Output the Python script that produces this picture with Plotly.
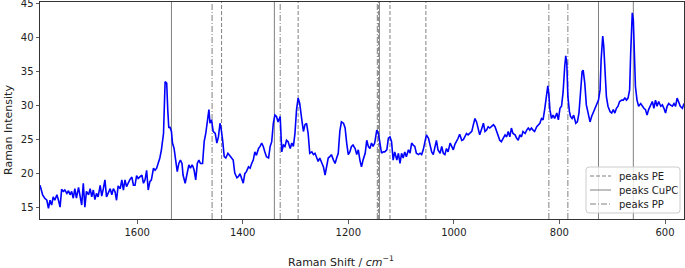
import plotly.graph_objects as go

# Raman shift (cm^-1) and intensity
shift = [1784, 1779, 1775, 1771, 1768, 1765, 1762, 1759, 1756, 1752, 1749, 1746, 1743, 1740, 1737, 1733,
         1730, 1727, 1724, 1721, 1718, 1715, 1711, 1708, 1705, 1702, 1699, 1696, 1692, 1689, 1686, 1683,
         1680, 1677, 1674, 1670, 1667, 1664, 1661, 1658, 1655, 1651, 1648, 1645, 1642, 1639, 1636, 1632,
         1629, 1626, 1623, 1620, 1617, 1614, 1610, 1607, 1604, 1601, 1598, 1595, 1591, 1588, 1585, 1582,
         1579, 1576, 1573, 1569, 1566, 1563, 1560, 1557, 1554, 1550, 1547, 1544, 1542, 1540, 1538, 1535,
         1533, 1530, 1527, 1524, 1521, 1518, 1515, 1513, 1509, 1506, 1502, 1499, 1496, 1494, 1492, 1489,
         1486, 1483, 1480, 1476, 1473, 1470, 1467, 1464, 1462, 1459, 1456, 1452, 1449, 1446, 1443, 1441,
         1438, 1435, 1432, 1428, 1424, 1421, 1418, 1415, 1411, 1408, 1405, 1402, 1399, 1396, 1393, 1389,
         1386, 1383, 1380, 1377, 1374, 1370, 1367, 1364, 1361, 1358, 1355, 1351, 1348, 1345, 1342, 1339,
         1336, 1333, 1329, 1326, 1323, 1320, 1317, 1314, 1310, 1307, 1304, 1301, 1298, 1295, 1292, 1288,
         1285, 1282, 1279, 1276, 1273, 1269, 1266, 1263, 1260, 1257, 1254, 1250, 1247, 1244, 1241, 1238,
         1235, 1232, 1228, 1225, 1222, 1219, 1216, 1213, 1209, 1206, 1203, 1200, 1197, 1194, 1191, 1187,
         1184, 1181, 1178, 1175, 1172, 1168, 1165, 1162, 1159, 1156, 1153, 1150, 1146, 1143, 1140, 1137,
         1134, 1131, 1127, 1124, 1121, 1118, 1115, 1112, 1108, 1105, 1102, 1099, 1096, 1093, 1090, 1086,
         1083, 1080, 1077, 1074, 1071, 1067, 1064, 1061, 1058, 1055, 1052, 1048, 1045, 1042, 1039, 1036,
         1033, 1030, 1026, 1023, 1020, 1017, 1014, 1011, 1007, 1004, 1001, 998, 995, 992, 989, 985,
         982, 979, 976, 973, 970, 966, 963, 960, 957, 954, 951, 948, 944, 941, 938, 935,
         932, 929, 925, 922, 919, 916, 913, 910, 906, 903, 900, 897, 894, 891, 888, 884,
         881, 878, 875, 872, 869, 865, 862, 859, 856, 853, 850, 847, 843, 840, 837, 834,
         831, 828, 824, 822, 820, 818, 815, 812, 809, 805, 802, 799, 796, 793, 790, 788,
         786, 784, 781, 779, 776, 773, 769, 766, 763, 760, 757, 755, 752, 749, 745, 742,
         739, 736, 733, 730, 726, 723, 721, 718, 716, 713, 711, 708, 704, 701, 698, 695,
         692, 689, 686, 682, 679, 676, 673, 670, 667, 665, 662, 660, 658, 656, 653, 650,
         646, 643, 640, 637, 634, 631, 627, 624, 621, 618, 615, 612, 608, 605, 602, 599,
         596, 593, 590, 586, 583, 580, 577, 574, 571, 567, 564]

intensity = [18.3, 16.9, 16.4, 16.1, 14.9, 16.1, 15.4, 16.6, 16.1, 16.9, 16.1, 15.1, 17.7, 17.4, 17.6, 17.1,
             17.5, 16.9, 17.4, 16.4, 17.8, 16.4, 18.0, 16.6, 15.4, 18.6, 15.1, 17.4, 16.9, 17.8, 16.6, 17.6,
             16.2, 17.1, 16.6, 18.3, 16.7, 17.8, 19.1, 16.6, 17.1, 17.8, 16.9, 17.8, 17.4, 16.1, 18.2, 17.8,
             19.1, 17.6, 19.1, 18.1, 18.6, 19.1, 19.5, 18.3, 18.3, 19.7, 19.3, 19.5, 19.8, 18.6, 19.1, 20.5,
             17.6, 18.8, 19.1, 20.8, 20.5, 20.8, 21.5, 22.3, 23.5, 25.9, 33.5, 33.3, 29.4, 26.7, 26.9, 26.2,
             24.5, 23.7, 22.0, 20.3, 21.5, 22.0, 21.5, 19.8, 18.6, 19.8, 21.3, 20.8, 21.3, 21.0, 20.5, 19.1,
             21.5, 22.0, 21.5, 21.5, 24.7, 25.9, 27.4, 29.4, 27.4, 27.9, 26.2, 25.9, 24.5, 25.4, 27.4, 26.7,
             24.9, 22.5, 22.3, 23.0, 22.6, 22.3, 22.0, 20.1, 19.4, 19.6, 20.0, 19.3, 18.6, 20.0, 20.3, 21.0,
             20.8, 21.5, 22.0, 23.2, 22.7, 23.7, 24.0, 24.5, 24.0, 23.2, 22.5, 22.3, 24.0, 24.7, 27.4, 28.6,
             28.4, 27.6, 28.4, 23.2, 24.2, 24.0, 24.9, 24.7, 23.7, 24.5, 24.0, 25.9, 29.4, 31.1, 30.3, 27.9,
             26.2, 27.2, 27.4, 25.9, 23.0, 23.2, 22.8, 23.0, 22.5, 21.8, 22.3, 21.5, 21.0, 19.8, 21.0, 22.3,
             22.5, 22.8, 22.0, 21.5, 22.3, 23.0, 26.2, 27.6, 27.4, 26.7, 24.5, 22.8, 23.2, 24.0, 24.2, 23.7,
             22.8, 23.5, 22.0, 21.0, 22.0, 23.0, 24.9, 24.0, 23.7, 24.5, 24.0, 24.5, 26.4, 25.9, 24.5, 23.0,
             23.2, 23.2, 23.5, 25.2, 25.4, 24.7, 22.0, 23.2, 22.0, 23.0, 21.5, 23.0, 22.3, 23.2, 22.5, 23.5,
             23.0, 24.5, 24.2, 24.0, 23.0, 22.8, 23.0, 22.8, 23.5, 24.7, 25.7, 25.2, 24.2, 23.2, 22.8, 23.7,
             24.9, 23.5, 23.0, 24.0, 23.0, 22.8, 23.7, 23.2, 24.5, 24.0, 23.5, 24.3, 24.7, 25.2, 25.8, 24.9,
             25.0, 25.4, 25.9, 25.7, 25.9, 26.2, 27.2, 28.1, 27.6, 26.4, 25.7, 26.4, 27.4, 26.2, 26.4, 26.9,
             26.7, 26.9, 27.2, 26.9, 26.2, 25.4, 24.9, 24.7, 25.2, 25.7, 25.4, 26.2, 25.4, 26.7, 25.9, 25.7,
             25.2, 24.9, 25.7, 25.4, 26.2, 25.9, 26.4, 26.7, 26.4, 26.7, 26.4, 26.2, 26.9, 27.2, 27.4, 28.1,
             27.9, 29.4, 32.0, 32.9, 31.6, 29.4, 28.1, 28.6, 28.1, 28.9, 27.9, 29.6, 29.9, 32.0, 35.7, 37.3,
             36.2, 31.3, 29.1, 28.4, 28.1, 28.6, 27.4, 27.6, 28.9, 31.8, 35.0, 35.2, 33.3, 30.1, 28.4, 27.6,
             28.4, 28.9, 29.6, 30.1, 30.8, 32.3, 36.7, 40.2, 38.7, 34.2, 31.3, 29.9, 29.1, 28.9, 29.4, 28.9,
             29.6, 29.9, 30.6, 30.8, 30.8, 31.1, 30.8, 31.1, 32.3, 37.7, 43.6, 42.6, 37.0, 32.8, 30.8, 29.9,
             30.3, 29.9, 29.6, 29.4, 28.6, 29.4, 30.1, 30.6, 29.6, 30.8, 29.9, 30.6, 29.9, 30.1, 29.6, 28.9,
             29.9, 30.3, 30.1, 29.9, 30.3, 29.9, 31.1, 30.6, 29.9, 29.6, 30.3]

# Reference peak positions (cm^-1)
peaks_pe = [1440, 1295, 1143, 1121, 1053]
peaks_cupc = [1535, 1340, 1141, 726, 660]
peaks_pp = [1458, 1329, 1145, 820, 784]

legend_labels = ["peaks PE", "peaks CuPC", "peaks PP"]

x_range = [1784, 564]
y_range = [13.35, 45.2]
x_ticks = [1600, 1400, 1200, 1000, 800, 600]
y_ticks = [15, 20, 25, 30, 35, 40, 45]

FONT = "DejaVu Sans"
TXT = "#222222"
GREY = "#808080"
DASHED = "4px,2px"
DASHDOT = "6px,2px,1px,2px"
styles = [DASHED, "solid", DASHDOT]

# figure geometry (pixels)
W, H = 685, 268
ML, MR, MT, MB = 40, 1, 2, 49
PW, PH = W - ML - MR, H - MT - MB


def px(xp):
    return (xp - ML) / PW


def py(yp):
    return (H - MB - yp) / PH


fig = go.Figure()
fig.add_trace(go.Scatter(x=shift, y=intensity, mode="lines",
                         line=dict(color="#0000ff", width=1.6), showlegend=False,
                         hoverinfo="skip"))

for group, dash in zip([peaks_pe, peaks_cupc, peaks_pp], styles):
    for p in group:
        fig.add_vline(x=p, line=dict(color=GREY, width=1, dash=dash), layer="below")

# legend box (matplotlib-style, drawn in paper coordinates)
bx0, bx1, by0, by1 = px(586), px(680), py(213), py(167)
rx, ry = 3 / PW, 3 / PH
box_path = (f"M {bx0+rx},{by0} L {bx1-rx},{by0} Q {bx1},{by0} {bx1},{by0+ry} "
            f"L {bx1},{by1-ry} Q {bx1},{by1} {bx1-rx},{by1} L {bx0+rx},{by1} "
            f"Q {bx0},{by1} {bx0},{by1-ry} L {bx0},{by0+ry} Q {bx0},{by0} {bx0+rx},{by0} Z")
fig.add_shape(type="path", path=box_path, xref="paper", yref="paper",
              fillcolor="rgba(255,255,255,0.8)", line=dict(color="#cccccc", width=1),
              layer="above")

annotations = []
row_y = [176, 190, 204]
for label, dash, ry_px in zip(legend_labels, styles, row_y):
    fig.add_shape(type="line", xref="paper", yref="paper",
                  x0=px(590), x1=px(611), y0=py(ry_px), y1=py(ry_px),
                  line=dict(color=GREY, width=1, dash=dash), layer="above")
    annotations.append(dict(text=label, xref="paper", yref="paper", x=px(617), y=py(ry_px),
                            xanchor="left", yanchor="middle", showarrow=False,
                            font=dict(family=FONT, size=10, color=TXT)))

annotations.append(dict(text="Raman Shift / <i>cm</i><sup>\u22121</sup>", xref="paper", yref="paper",
                        x=px(341), y=py(261), xanchor="center", yanchor="middle", showarrow=False,
                        font=dict(family=FONT, size=11, color=TXT)))
annotations.append(dict(text="Raman Intensity", xref="paper", yref="paper", textangle=-90,
                        x=px(8), y=py(130), xanchor="center", yanchor="middle", showarrow=False,
                        font=dict(family=FONT, size=11, color=TXT)))

axis_common = dict(showgrid=False, zeroline=False, showline=True, mirror=True,
                   linecolor="#333333", linewidth=1, ticks="outside", ticklen=3.5,
                   tickwidth=0.8, tickcolor="#333333", ticklabeloverflow="allow",
                   tickfont=dict(family=FONT, size=10, color=TXT))

fig.update_layout(
    width=W, height=H,
    margin=dict(l=ML, r=MR, t=MT, b=MB, autoexpand=False),
    paper_bgcolor="white", plot_bgcolor="white",
    font=dict(family=FONT, size=10, color=TXT),
    showlegend=False,
    hovermode=False,
    xaxis=dict(range=x_range, tickvals=x_ticks, **axis_common),
    yaxis=dict(range=y_range, tickvals=y_ticks, **axis_common),
    annotations=annotations,
)

fig.write_html("out.html", config={"displayModeBar": False, "staticPlot": True},
               post_script="document.body.style.margin='0';")
